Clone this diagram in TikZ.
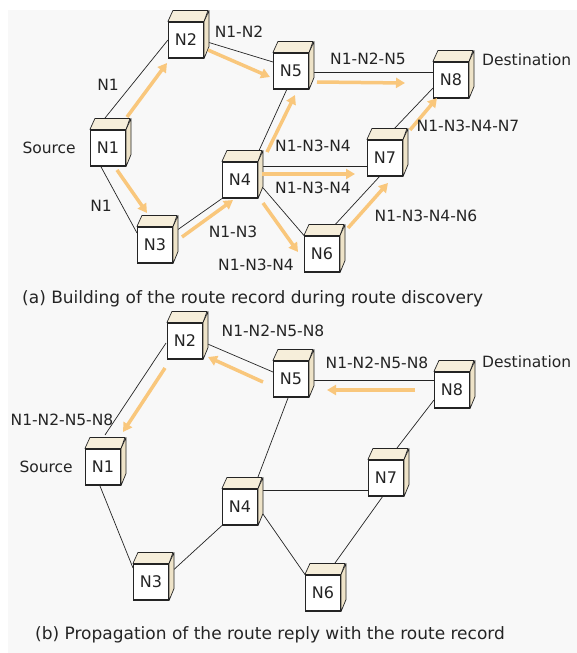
\documentclass[tikz,border=0pt]{standalone}
\usepackage{fontspec}
\setmainfont{DejaVu Sans}
\usetikzlibrary{arrows.meta, positioning, calc, backgrounds}
\definecolor{flowcol}{HTML}{F9C77C}
\definecolor{cubetop}{HTML}{F6EEDA}
\definecolor{cubeside}{HTML}{EEE3C8}
\definecolor{panel}{HTML}{F8F8F8}
\definecolor{ink}{HTML}{242424}

\begin{document}
\begin{tikzpicture}[
    x=1pt, y=-1pt,
    router/.style={draw=ink, fill=white, line width=1.1pt, minimum width=35pt, minimum height=36pt, inner sep=0pt, font=\fontsize{16}{18}\selectfont, text=ink},
    face/.style={draw=ink, line width=0.7pt, line join=round},
    link/.style={draw=ink, line width=0.7pt},
    flow/.style={draw=flowcol, line width=3.5pt, -{Triangle[length=9pt, width=10pt]}},
    lbl/.style={font=\fontsize{15.5}{17}\selectfont, text=ink, inner sep=1pt},
    caption/.style={font=\fontsize{17}{20}\selectfont, text=ink, anchor=west, inner sep=0pt}
]
\useasboundingbox (0,0) rectangle (577,653);

% (a) route discovery
\node[router] (a1) at (108,148) {N1};
\node[router] (a2) at (186,40) {N2};
\node[router] (a3) at (155,245) {N3};
\node[router] (a4) at (240,180) {N4};
\node[router] (a5) at (291,71) {N5};
\node[router] (a6) at (322,254) {N6};
\node[router] (a7) at (385,158) {N7};
\node[router] (a8) at (451,80) {N8};

% (b) route reply
\node[router] (b1) at (103,467) {N1};
\node[router] (b2) at (185,341) {N2};
\node[router] (b3) at (151,582) {N3};
\node[router] (b4) at (240,507) {N4};
\node[router] (b5) at (291,379) {N5};
\node[router] (b6) at (323,593) {N6};
\node[router] (b7) at (386,478) {N7};
\node[router] (b8) at (452,390) {N8};

% cube top and side faces
\foreach \p in {a,b}{
  \foreach \i in {1,...,8}{
    \draw[face, fill=cubetop] (\p\i.north west) -- ++(5,-11) -- ++(35,0) -- (\p\i.north east) -- cycle;
    \draw[face, fill=cubeside] (\p\i.north east) -- ++(5,-11) -- ++(0,36) -- (\p\i.south east) -- cycle;
  }
}

\begin{pgfonlayer}{background}
\fill[panel] (8,10) rectangle (577,653);
% links (a)
\draw[link] ($(a1)+(-3,-30)$) -- (a2.west);
\draw[link] ($(a2)+(18,1)$) -- ($(a5)+(-18,-9)$);
\draw[link] ($(a1)+(-8,17)$) -- ($(a3)+(-18,-12)$);
\draw[link] ($(a3)+(18,-12)$) -- (a4.south west);
\draw[link] ($(a4)+(17,-25)$) -- ($(a5)+(-4,18)$);
\draw[link] ($(a4)+(18,-14)$) -- ($(a7)+(-18,8)$);
\draw[link] ($(a4)+(18,2)$) -- (a6.north west);
\draw[link] ($(a6)+(10,-26)$) -- ($(a7)+(-5,18)$);
\draw[link] ($(a5)+(18,1)$) -- ($(a8)+(-18,-8)$);
\draw[link] ($(a7)+(8,-28)$) -- ($(a8)+(-18,8)$);
% links (b)
\draw[link] ($(b1)+(2,-32)$) -- ($(b2)+(-19,2)$);
\draw[link] ($(b2)+(18,1)$) -- ($(b5)+(-18,-7)$);
\draw[link] ($(b5)+(18,1)$) -- ($(b8)+(-18,-10)$);
\draw[link] ($(b5)+(-3,19)$) -- ($(b4)+(18,-30)$);
\draw[link] ($(b1)+(-3,19)$) -- ($(b3)+(-18,-14)$);
\draw[link] ($(b3)+(18,-8)$) -- (b4.south west);
\draw[link] ($(b4)+(18,-17)$) -- ($(b7)+(-18,12)$);
\draw[link] (b4.east) -- (b6.north west);
\draw[link] ($(b6)+(12,-30)$) -- ($(b7)+(-3,18)$);
\draw[link] ($(b7)+(11,-30)$) -- ($(b8)+(-18,10)$);
\end{pgfonlayer}

% route request flow
\draw[flow] ($(a1)+(19,-31)$) -- ($(a2)+(-19,23)$);
\draw[flow] ($(a2)+(22,10)$) -- ($(a5)+(-21,6)$);
\draw[flow] ($(a1)+(9,22)$) -- ($(a3)+(-8,-32)$);
\draw[flow] ($(a3)+(27,-8)$) -- ($(a4)+(-7,20)$);
\draw[flow] ($(a4)+(27,-28)$) -- ($(a5)+(4,24)$);
\draw[flow] ($(a4)+(22,-6)$) -- ($(a7)+(-30,16)$);
\draw[flow] ($(a4)+(23,23)$) -- ($(a6)+(-24,-2)$);
\draw[flow] ($(a5)+(26,11)$) -- ($(a8)+(-46,3)$);
\draw[flow] ($(a7)+(25,-28)$) -- ($(a8)+(-14,18)$);
\draw[flow] ($(a6)+(26,-26)$) -- ($(a7)+(3,25)$);
% route reply flow
\draw[flow] ($(b8)+(-37,0)$) -- ($(b5)+(36,11)$);
\draw[flow] ($(b5)+(-28,3)$) -- ($(b2)+(23,16)$);
\draw[flow] ($(b2)+(-20,27)$) -- ($(b1)+(20,-35)$);

% labels (a)
\node[lbl, left=13pt of a1] (srca) {Source};
\node[lbl, anchor=west] (dsta) at (481,60) {Destination};
\node[lbl] (la12) at (239,32) {N1-N2};
\node[lbl] (la1u) at (108,85) {N1};
\node[lbl] (la1d) at (101,206) {N1};
\node[lbl] (la13) at (233,232) {N1-N3};
\node[lbl] (la134d) at (256,265) {N1-N3-N4};
\node[lbl] (la125) at (368,59) {N1-N2-N5};
\node[lbl] (la1347) at (468,126) {N1-N3-N4-N7};
\node[lbl] (la134u) at (313,146) {N1-N3-N4};
\node[lbl] (la134m) at (313,188) {N1-N3-N4};
\node[lbl] (la1346) at (426,216) {N1-N3-N4-N6};
\node[caption] (capa) at (22,299) {(a) Building of the route record during route discovery};

% labels (b)
\node[lbl, left=11pt of b1] (srcb) {Source};
\node[lbl, anchor=west] (dstb) at (481,362) {Destination};
\node[lbl] (lb25) at (273,331) {N1-N2-N5-N8};
\node[lbl] (lb58) at (377,363) {N1-N2-N5-N8};
\node[lbl] (lb21) at (62,420) {N1-N2-N5-N8};
\node[caption] (capb) at (35,635) {(b) Propagation of the route reply with the route record};
\end{tikzpicture}
\end{document}
